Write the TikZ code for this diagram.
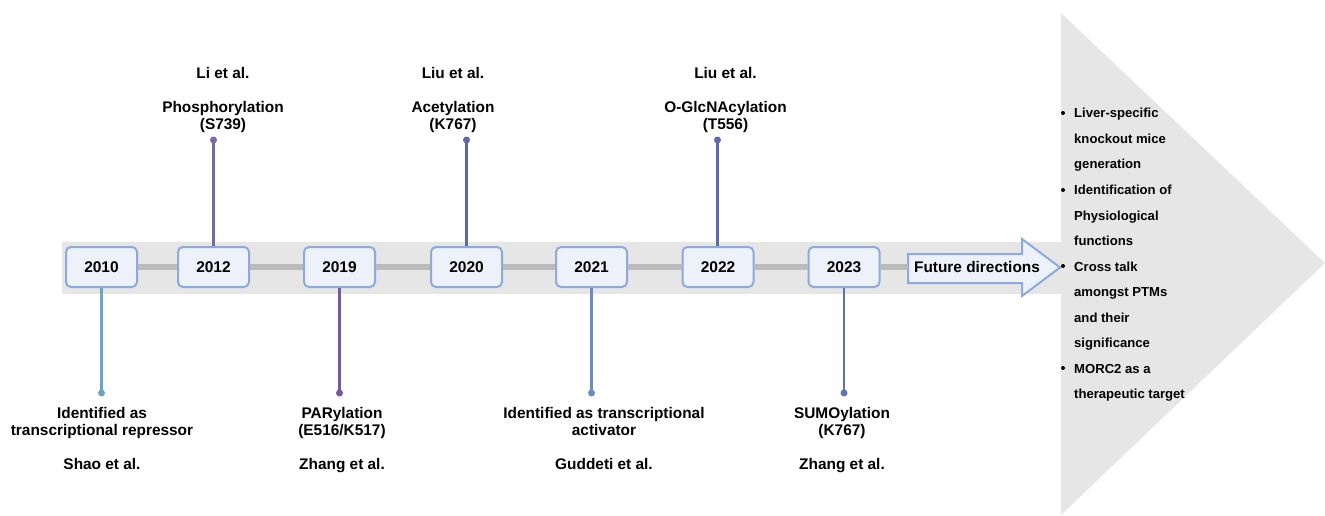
\documentclass[tikz,border=0pt]{standalone}
\usepackage{fontspec}
\setmainfont{Liberation Sans}
\definecolor{bandgray}{HTML}{E6E6E6}
\definecolor{linegray}{HTML}{BBBBBB}
\definecolor{boxfill}{HTML}{EDF2FA}
\definecolor{boxdraw}{HTML}{8EA9DB}
\definecolor{cTeal}{HTML}{6BA5C0}
\definecolor{cPurpleA}{HTML}{7B68A6}
\definecolor{cPurpleB}{HTML}{76599C}
\definecolor{cBlueA}{HTML}{5E68A8}
\definecolor{cBlueB}{HTML}{6B8CC0}
\definecolor{cBlueC}{HTML}{5A6CAA}
\definecolor{cBlueD}{HTML}{5D74B0}
\begin{document}
\begin{tikzpicture}[x=1pt,y=-1pt,
  yearbox/.style={draw=boxdraw, fill=boxfill, line width=2pt, rounded corners=5pt,
    minimum width=71pt, minimum height=40pt, inner sep=0pt,
    font=\fontsize{15.5}{17}\selectfont\bfseries},
  dotnode/.style={circle, inner sep=0pt, minimum size=7pt, fill=#1},
  stem/.style={line width=2.2pt, draw=#1},
  lbl/.style={align=center, anchor=base, inner sep=0pt,
    font=\fontsize{15.4}{17}\selectfont\bfseries},
  tl/.style={line width=6pt, draw=linegray},
  bul/.style={align=left, anchor=base west, inner sep=0pt,
    font=\fontsize{13.1}{25.5}\selectfont\bfseries},
  bdot/.style={circle, fill=black, inner sep=0pt, minimum size=4pt}
]
\useasboundingbox (0,0) rectangle (1325,515);
% background band and triangle
\fill[bandgray] (62,242) rectangle (1062,294);
\fill[bandgray] (1061,13) -- (1325,263) -- (1061,515) -- cycle;

% year boxes
\node[yearbox] (y2010) at (101.5,267) {2010};
\node[yearbox] (y2012) at (213.5,267) {2012};
\node[yearbox] (y2019) at (339.5,267) {2019};
\node[yearbox] (y2020) at (466.5,267) {2020};
\node[yearbox] (y2021) at (591.5,267) {2021};
\node[yearbox] (y2022) at (718,267) {2022};
\node[yearbox] (y2023) at (844,267) {2023};

% future directions arrow
\coordinate (fa1) at (908,254);
\coordinate (fa2) at (1022,254);
\coordinate (fa3) at (1022,239);
\coordinate (fa4) at (1060,267.5);
\coordinate (fa5) at (1022,296);
\coordinate (fa6) at (1022,283);
\coordinate (fa7) at (908,283);
\draw[draw=boxdraw, fill=boxfill, line width=2pt, line join=miter]
  (fa1) -- (fa2) -- (fa3) -- (fa4) -- (fa5) -- (fa6) -- (fa7) -- cycle;
\coordinate (fdin) at (908,267);
\node[inner sep=0pt, font=\fontsize{15.4}{17}\selectfont\bfseries] (fd) at (977,267) {Future directions};

% timeline connectors
\draw[tl] (y2010.east) -- (y2012.west);
\draw[tl] (y2012.east) -- (y2019.west);
\draw[tl] (y2019.east) -- (y2020.west);
\draw[tl] (y2020.east) -- (y2021.west);
\draw[tl] (y2021.east) -- (y2022.west);
\draw[tl] (y2022.east) -- (y2023.west);
\draw[tl] (y2023.east) -- (fdin);

% dots
\node[dotnode=cPurpleA] (d2012) at (213.5,140) {};
\node[dotnode=cBlueA] (d2020) at (466.5,140) {};
\node[dotnode=cBlueC] (d2022) at (717.5,140) {};
\node[dotnode=cTeal] (d2010) at (101.5,393) {};
\node[dotnode=cPurpleB] (d2019) at (339.5,393) {};
\node[dotnode=cBlueB] (d2021) at (591.5,393) {};
\node[dotnode=cBlueD] (d2023) at (844,393) {};

% stems
\draw[stem=cPurpleA] (y2012.north) -- (d2012.center);
\draw[stem=cBlueA] (y2020.north) -- (d2020.center);
\draw[stem=cBlueC] (y2022.north -| d2022) -- (d2022.center);
\draw[stem=cTeal] (y2010.south) -- (d2010.center);
\draw[stem=cPurpleB] (y2019.south) -- (d2019.center);
\draw[stem=cBlueB] (y2021.south) -- (d2021.center);
\draw[stem=cBlueD] (y2023.south) -- (d2023.center);

% top labels
\node[lbl] (a2012) at (223,78.2) {Li et al.};
\node[lbl] (p2012) at (223,129.5) {Phosphorylation\\(S739)};
\node[lbl] (a2020) at (453,78.2) {Liu et al.};
\node[lbl] (p2020) at (453,129.5) {Acetylation\\(K767)};
\node[lbl] (a2022) at (725.5,78.2) {Liu et al.};
\node[lbl] (p2022) at (725.5,129.5) {O-GlcNAcylation\\(T556)};

% bottom labels
\node[lbl] (p2010) at (102,435) {Identified as\\transcriptional repressor};
\node[lbl] (a2010) at (102,469.5) {Shao et al.};
\node[lbl] (p2019) at (342,435) {PARylation\\(E516/K517)};
\node[lbl] (a2019) at (342,469.5) {Zhang et al.};
\node[lbl] (p2021) at (604,435) {Identified as transcriptional\\activator};
\node[lbl] (a2021) at (604,469.5) {Guddeti et al.};
\node[lbl] (p2023) at (842,435) {SUMOylation\\(K767)};
\node[lbl] (a2023) at (842,469.5) {Zhang et al.};

% bullet list
\node[bdot] (b1) at (1063,113) {};
\node[bdot] (b2) at (1063,190) {};
\node[bdot] (b3) at (1063,266) {};
\node[bdot] (b4) at (1063,368) {};
\node[bul] (t1) at (1074,168.7) {Liver-specific\\knockout mice\\generation};
\node[bul] (t2) at (1074,245.7) {Identification of\\Physiological\\functions};
\node[bul] (t3) at (1074,347.7) {Cross talk\\amongst PTMs\\and their\\significance};
\node[bul] (t4) at (1074,398.7) {MORC2 as a\\therapeutic target};
\end{tikzpicture}
\end{document}
